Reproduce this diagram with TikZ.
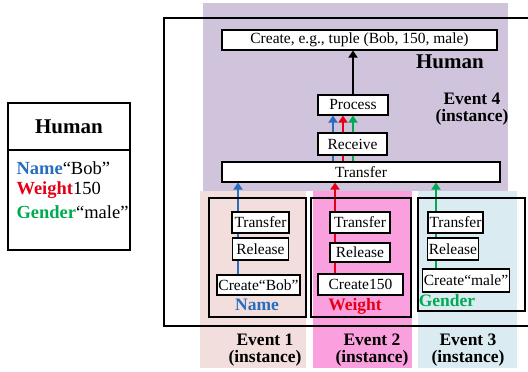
\documentclass[tikz,border=0pt]{standalone}
\usepackage{fontspec}
\setmainfont{Liberation Serif}
\usetikzlibrary{arrows.meta}
\definecolor{nameblue}{RGB}{40,110,190}
\definecolor{weightred}{RGB}{230,0,20}
\definecolor{gendergreen}{RGB}{0,170,80}
\definecolor{bgpurple}{RGB}{207,196,220}
\definecolor{bgpink}{RGB}{242,222,221}
\definecolor{bgmagenta}{RGB}{250,160,222}
\definecolor{bgblue}{RGB}{218,236,242}
\pgfdeclarelayer{bg}
\pgfdeclarelayer{lines}
\pgfsetlayers{bg,lines,main}
\tikzset{
  stepbox/.style={draw, fill=white, line width=1.1pt, inner sep=1pt, font=\fontsize{15.5}{17}\selectfont},
  evbox/.style={draw, line width=1.1pt},
  tag/.style={font=\bfseries\fontsize{17.5}{17.5}\selectfont, align=center},
  flow/.style={line width=2.4pt, -{Triangle[length=7pt,width=9pt]}},
}
\begin{document}
\begin{tikzpicture}[x=1pt,y=-1pt]
\useasboundingbox (0,0) rectangle (528,372);
% class Human
\draw[line width=1.1pt] (8,103) rectangle (130,250);
\draw[line width=1.1pt] (8,150) -- (130,150);
\node[font=\bfseries\fontsize{21}{22}\selectfont] (cls) at (69,127) {Human};
\node[anchor=west, font=\fontsize{18.5}{19}\selectfont] (attr1) at (13,168) {\textbf{\color{nameblue}Name}“Bob”};
\node[anchor=west, font=\fontsize{18.5}{19}\selectfont] (attr2) at (13,190) {\textbf{\color{weightred}Weight}150};
\node[anchor=west, font=\fontsize{18.5}{19}\selectfont] (attr3) at (13,212) {\textbf{\color{gendergreen}Gender}“male”};
% event 4
\node[stepbox, minimum width=275pt, minimum height=20pt] (tuple) at (359.5,40) {Create, e.g., tuple (Bob, 150, male)};
\node[font=\bfseries\fontsize{21}{22}\selectfont] (human) at (450,62) {Human};
\node[tag] (ev4) at (472,109) {Event 4\\(instance)};
\node[stepbox, minimum width=70pt, minimum height=20pt] (process) at (353,105) {Process};
\node[stepbox, minimum width=69pt, minimum height=22pt] (receive) at (352.5,144) {Receive};
\node[stepbox, minimum width=278pt, minimum height=20pt] (transfer) at (361,172) {Transfer};
% event 1
\node[evbox, minimum width=97pt, minimum height=119pt] (box1) at (257.5,257.5) {};
\node[stepbox, minimum width=57pt, minimum height=21pt] (transfer1) at (260.5,222.5) {Transfer};
\node[stepbox, minimum width=56pt, minimum height=22pt] (release1) at (260.5,249) {Release};
\node[stepbox, minimum width=83pt, minimum height=20pt] (create1) at (258.5,285) {Create“Bob”};
\node[tag, text=nameblue] (name) at (257,305) {Name};
\node[tag] (ev1) at (265,350) {Event 1\\(instance)};
% event 2
\node[evbox, minimum width=100pt, minimum height=119pt] (box2) at (361,257.5) {};
\node[stepbox, minimum width=60pt, minimum height=21pt] (transfer2) at (360,222.5) {Transfer};
\node[stepbox, minimum width=60pt, minimum height=19pt] (release2) at (360,252.5) {Release};
\node[stepbox, minimum width=85pt, minimum height=21pt] (create2) at (360.5,284.5) {Create150};
\node[tag, text=weightred] (weight) at (355,306) {Weight};
\node[tag] (ev2) at (372,350) {Event 2\\(instance)};
% event 3
\node[evbox, minimum width=107pt, minimum height=113pt] (box3) at (471.5,254.5) {};
\node[stepbox, minimum width=55pt, minimum height=21pt] (transfer3) at (455.5,222.5) {Transfer};
\node[stepbox, minimum width=50pt, minimum height=22pt] (release3) at (453,249) {Release};
\node[stepbox, minimum width=82pt, minimum height=23pt] (create3) at (466,280.5) {Create“male”};
\node[tag, text=gendergreen] (gender) at (447,301) {Gender};
\node[tag] (ev3) at (468,350) {Event 3\\(instance)};
\begin{pgfonlayer}{bg}
\fill[bgpurple] (203,3) rectangle (508,191);
\fill[bgpink] (200,191) rectangle (306,368);
\fill[bgmagenta] (313,191) rectangle (412,368);
\fill[bgblue] (418,191) rectangle (517,368);
\end{pgfonlayer}
\begin{pgfonlayer}{lines}
\draw[line width=1.1pt] (528,18) -- (164,18) -- (164,326) -- (528,326);
\draw[flow, nameblue] (create1.north -| 238,0) -- (transfer.south -| 238,0);
\draw[flow, weightred] (create2.north -| 335,0) -- (transfer.south -| 335,0);
\draw[flow, gendergreen] (create3.north -| 436,0) -- (transfer.south -| 436,0);
\draw[flow, nameblue] (transfer.north -| 333,0) -- (process.south -| 333,0);
\draw[flow, weightred] (transfer.north -| 343,0) -- (process.south -| 343,0);
\draw[flow, gendergreen] (transfer.north -| 353,0) -- (process.south -| 353,0);
\draw[flow] (process.north) -- (process.north |- tuple.south);
\end{pgfonlayer}
\end{tikzpicture}
\end{document}
